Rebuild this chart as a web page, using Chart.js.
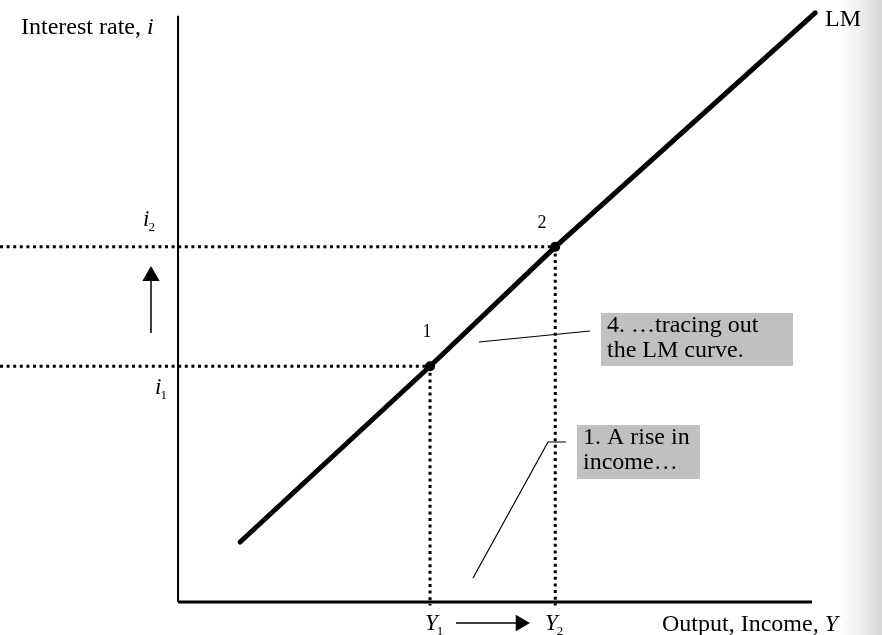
<!DOCTYPE html>
<html>
<head>
<meta charset="utf-8">
<script src="https://cdn.jsdelivr.net/npm/chart.js@4/dist/chart.umd.min.js"></script>
<style>
  html, body { margin: 0; padding: 0; }
  body {
    width: 882px; height: 635px; overflow: hidden;
    background: linear-gradient(to right, #ffffff 0px, #ffffff 840px, #f0f0f0 858px, #d6d6d6 882px);
  }
  canvas { display: block; }
</style>
</head>
<body>
<canvas id="c" width="882" height="635"></canvas>
<script>
// ---- Data (economic units: output Y on x, interest rate i on y) ----
const lmX = [9.8, 39.75, 59.5, 100.5];        // LM curve, output
const lmY = [10.2, 40.1, 60.4, 100.2];        // LM curve, interest rate
const outputLevels = [39.75, 59.5];           // Y1, Y2
const interestLevels = [40.1, 60.4];          // i1, i2
const pointLabels = ['1', '2'];
const incomeTicks = ['Y', 'Y'];
const incomeSubs = ['1', '2'];
const rateTicks = ['i', 'i'];
const rateSubs = ['1', '2'];
const axisTop = 99.7;
const axisRight = 100;

// scale extents (the chart area spans the page)
const xRange = {min: -28.08, max: 111.04};
const yRange = {min: -5.61, max: 102.38};

// ---- annotations, placed in data coordinates ----
const plainTexts = [
  {t: 'Interest rate, ', it: 'i', x: -24.76, y: 96.6},
  {t: 'LM', x: 102.05, y: 97.9},
  {t: 'Output, Income, ', it: 'Y', x: 76.34, y: -4.93},
];
const rateLabelPos = [{x: -3.63, y: 35.37}, {x: -5.52, y: 63.95}];
const incomeLabelPos = [{x: 38.96, y: -4.76}, {x: 57.89, y: -4.76}];
const pointLabelPos = [{x: 39.27, y: 45.07}, {x: 57.41, y: 63.6}];
const boxes = [
  {lines: ['4. \u2026tracing out', 'the LM curve.'], x: 66.72, y: 49.15, w: 192, h: 53},
  {lines: ['1. A rise in', 'income\u2026'], x: 62.93, y: 30.1, w: 123, h: 54},
];

const seg = (pts, extra) => Object.assign({
  data: pts, showLine: true, pointRadius: 0, borderColor: '#000',
  borderWidth: 1, clip: false, tension: 0
}, extra || {});

const datasets = [];
// axes
datasets.push(seg([{x: 0, y: 0}, {x: 0, y: axisTop}], {borderWidth: 2}));
datasets.push(seg([{x: 0, y: 0}, {x: axisRight, y: 0}], {borderWidth: 3}));
// dotted guides
for (let k = 0; k < 2; k++) {
  const X = outputLevels[k], I = interestLevels[k];
  datasets.push(seg([{x: xRange.min, y: I}, {x: X, y: I}], {borderWidth: 3, borderDash: [3, 3.6]}));
  datasets.push(seg([{x: X, y: I}, {x: X, y: -0.6}], {borderWidth: 3, borderDash: [3, 3.6]}));
}
// LM curve
datasets.push(seg(lmX.map((v, k) => ({x: v, y: lmY[k]})), {borderWidth: 5, borderCapStyle: 'round', borderJoinStyle: 'round'}));
// equilibrium points
datasets.push({
  data: outputLevels.map((X, k) => ({x: X, y: interestLevels[k]})),
  showLine: false, pointRadius: 5, pointBackgroundColor: '#000', pointBorderWidth: 0, clip: false
});
// leader lines
datasets.push(seg([{x: 47.48, y: 44.22}, {x: 64.98, y: 46.09}], {borderWidth: 1.2}));
datasets.push(seg([{x: 46.53, y: 4.08}, {x: 58.36, y: 27.21}, {x: 61.2, y: 27.21}], {borderWidth: 1.2}));
// arrow shafts
datasets.push(seg([{x: -4.26, y: 45.75}, {x: -4.26, y: 54.8}], {borderWidth: 1.5}));
datasets.push(seg([{x: 43.85, y: -3.57}, {x: 53.5, y: -3.57}], {borderWidth: 1.5}));
// arrow heads
datasets.push({
  data: [{x: -4.26, y: 55.44}], showLine: false, pointStyle: 'triangle', pointRadius: 10,
  pointRotation: 0, pointBackgroundColor: '#000', pointBorderWidth: 0, clip: false
});
datasets.push({
  data: [{x: 54.02, y: -3.57}], showLine: false, pointStyle: 'triangle', pointRadius: 9.5,
  pointRotation: 90, pointBackgroundColor: '#000', pointBorderWidth: 0, clip: false
});

const SERIF = '"Liberation Serif", "DejaVu Serif", serif';

const labelsPlugin = {
  id: 'labels',
  afterDatasetsDraw(chart) {
    const {ctx, scales: {x, y}} = chart;
    ctx.save();
    ctx.fillStyle = '#000';
    ctx.textBaseline = 'alphabetic';
    ctx.textAlign = 'left';
    const F = 24;
    plainTexts.forEach(o => {
      const px = x.getPixelForValue(o.x), py = y.getPixelForValue(o.y);
      ctx.font = F + 'px ' + SERIF;
      ctx.fillText(o.t, px, py);
      if (o.it) {
        const w = ctx.measureText(o.t).width;
        ctx.font = 'italic ' + F + 'px ' + SERIF;
        ctx.fillText(o.it, px + w, py);
      }
    });
    const sub = (base, s, pos) => {
      const px = x.getPixelForValue(pos.x), py = y.getPixelForValue(pos.y);
      ctx.font = 'italic 23px ' + SERIF;
      ctx.fillText(base, px, py);
      const w = ctx.measureText(base).width;
      ctx.font = '13px ' + SERIF;
      ctx.fillText(s, px + w - 1, py + 5);
    };
    interestLevels.forEach((I, k) => sub(rateTicks[k], rateSubs[k], rateLabelPos[k]));
    outputLevels.forEach((X, k) => sub(incomeTicks[k], incomeSubs[k], incomeLabelPos[k]));
    ctx.font = '18px ' + SERIF;
    ctx.textAlign = 'center';
    pointLabels.forEach((p, k) => {
      ctx.fillText(p, x.getPixelForValue(pointLabelPos[k].x), y.getPixelForValue(pointLabelPos[k].y));
    });
    ctx.textAlign = 'left';
    boxes.forEach(b => {
      const px = x.getPixelForValue(b.x), py = y.getPixelForValue(b.y);
      ctx.fillStyle = '#c0c0c0';
      ctx.fillRect(px, py, b.w, b.h);
      ctx.fillStyle = '#000';
      ctx.font = F + 'px ' + SERIF;
      b.lines.forEach((ln, j) => ctx.fillText(ln, px + 6, py + 19 + j * 25));
    });
    ctx.restore();
  }
};

new Chart(document.getElementById('c'), {
  type: 'scatter',
  data: {datasets},
  options: {
    responsive: false,
    animation: false,
    devicePixelRatio: 1,
    layout: {padding: 0, autoPadding: false},
    plugins: {legend: {display: false}, tooltip: {enabled: false}},
    scales: {
      x: {type: 'linear', min: xRange.min, max: xRange.max, display: false},
      y: {type: 'linear', min: yRange.min, max: yRange.max, display: false}
    }
  },
  plugins: [labelsPlugin]
});
</script>
</body>
</html>
